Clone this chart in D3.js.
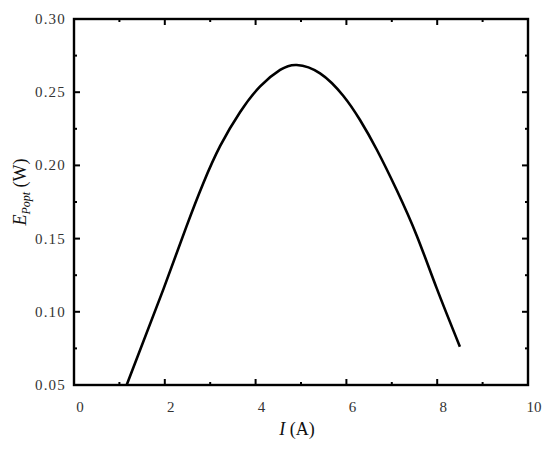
<!DOCTYPE html>
<html><head><meta charset="utf-8">
<script src="https://cdn.jsdelivr.net/npm/d3@7"></script>
<style>body{margin:0;background:#fff}</style></head>
<body><svg id="c" width="550" height="449"></svg>
<script>
const currentI = [1.16,1.97,2.48,2.85,3.22,3.66,4.10,4.54,4.905,5.42,5.93,6.30,6.67,7.11,7.55,7.99,8.50];
const power    = [0.050,0.1155,0.1585,0.1880,0.2133,0.2365,0.2540,0.2652,0.2686,0.2629,0.2476,0.2310,0.2107,0.1830,0.1520,0.1160,0.0762];
const xTicks = [0,2,4,6,8,10];
const yTicks = [0.05,0.10,0.15,0.20,0.25,0.30];

const svg = d3.select("#c");
const L=74,R=528,T=19,B=385;
const x = d3.scaleLinear().domain([0,10]).range([L,R]);
const y = d3.scaleLinear().domain([0.05,0.30]).range([B,T]);
const font = "'Liberation Serif','Times New Roman',serif";

// curve
const data = currentI.map((v,i)=>[v,power[i]]);
svg.append("path").datum(data)
  .attr("d", d3.line().x(d=>x(d[0])).y(d=>y(d[1])).curve(d3.curveNatural))
  .attr("fill","none").attr("stroke","#000").attr("stroke-width",2.6);

const g = svg.append("g").attr("stroke","#000").attr("stroke-width",2);
// ticks
const xMinor = d3.range(1,10,2);
const yMinor = [0.075,0.125,0.175,0.225,0.275];
xTicks.forEach(t=>{
  g.append("line").attr("x1",x(t)).attr("x2",x(t)).attr("y1",B).attr("y2",B-6);
  g.append("line").attr("x1",x(t)).attr("x2",x(t)).attr("y1",T).attr("y2",T+6);
});
xMinor.forEach(t=>{
  g.append("line").attr("x1",x(t)).attr("x2",x(t)).attr("y1",B).attr("y2",B-3);
  g.append("line").attr("x1",x(t)).attr("x2",x(t)).attr("y1",T).attr("y2",T+3);
});
yTicks.forEach(t=>{
  g.append("line").attr("y1",y(t)).attr("y2",y(t)).attr("x1",L).attr("x2",L+6);
  g.append("line").attr("y1",y(t)).attr("y2",y(t)).attr("x1",R).attr("x2",R-6);
});
yMinor.forEach(t=>{
  g.append("line").attr("y1",y(t)).attr("y2",y(t)).attr("x1",L).attr("x2",L+3);
  g.append("line").attr("y1",y(t)).attr("y2",y(t)).attr("x1",R).attr("x2",R-3);
});
// frame
svg.append("rect").attr("x",L).attr("y",T).attr("width",R-L).attr("height",B-T)
  .attr("fill","none").attr("stroke","#000").attr("stroke-width",2.4);

// tick labels
svg.selectAll(".xl").data(xTicks).enter().append("text")
  .attr("x",d=>x(d)+6).attr("y",412).attr("text-anchor","middle")
  .attr("font-family",font).attr("font-size",15).attr("fill","#333").text(d=>d);
svg.selectAll(".yl").data(yTicks).enter().append("text")
  .attr("x",66).attr("y",d=>y(d)+5).attr("text-anchor","end")
  .attr("font-family",font).attr("font-size",15).attr("fill","#333")
  .attr("letter-spacing",1.2).text(d=>d3.format(".2f")(d));

// axis titles
const xt = svg.append("text").attr("x",297).attr("y",435).attr("text-anchor","middle")
  .attr("font-family",font).attr("font-size",18).attr("fill","#111");
xt.append("tspan").attr("font-style","italic").text("I");
xt.append("tspan").text(" (A)");

const yt = svg.append("text").attr("transform","translate(26,192) rotate(-90)")
  .attr("text-anchor","middle").attr("font-family",font).attr("font-size",18).attr("fill","#111");
yt.append("tspan").attr("font-style","italic").text("E");
yt.append("tspan").attr("font-style","italic").attr("font-size",12).attr("dy",4).text("Popt");
yt.append("tspan").attr("dy",-4).text(" (W)");
</script></body></html>
